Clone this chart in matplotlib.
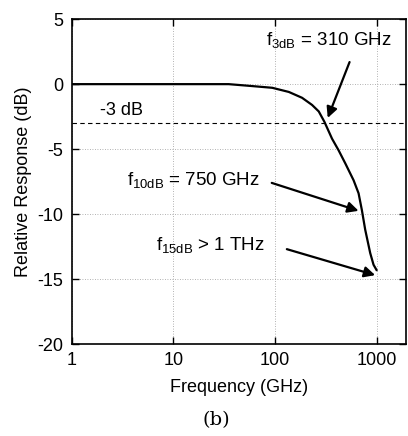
import matplotlib
matplotlib.use("Agg")
import matplotlib.pyplot as plt

plt.rcParams['font.family'] = ['Liberation Sans', 'DejaVu Sans']
plt.rcParams['mathtext.fontset'] = 'custom'
plt.rcParams['mathtext.rm'] = 'Liberation Sans'
plt.rcParams['mathtext.it'] = 'Liberation Sans'
plt.rcParams['axes.unicode_minus'] = False

# response curve
freq_ghz = [1, 10, 35, 56, 94, 137, 185, 232, 270, 307, 365, 424, 493, 595, 666, 718, 774, 867, 935, 1000]
resp_db = [0, 0, 0, -0.13, -0.28, -0.6, -1.05, -1.6, -2.1, -2.9, -4.2, -5.1, -6.1, -7.4, -8.4, -9.7, -11.2, -13.0, -13.9, -14.3]

xticks = [1, 10, 100, 1000]
xticklabels = ['1', '10', '100', '1000']
yticks = [5, 0, -5, -10, -15, -20]

# annotations: (text, text pos, arrow tail, arrow head)
notes = [
    (r'f$_{\mathrm{3dB}}$ = 310 GHz', (82, 3.4), (543, 1.7), (331, -2.6)),
    (r'f$_{\mathrm{10dB}}$ = 750 GHz', (3.46, -7.4), (93, -7.6), (666, -9.75)),
    (r'f$_{\mathrm{15dB}}$ > 1 THz', (6.8, -12.4), (131, -12.7), (970, -14.7)),
]

fig = plt.figure(figsize=(4.08, 4.36), dpi=100)
ax = fig.add_axes([0.176, 0.211, 0.819, 0.745])

ax.plot(freq_ghz, resp_db, color='black', lw=1.6)
ax.axhline(-3, color='black', lw=0.8, ls=(0, (4, 3)))
ax.text(1.88, -2.0, '-3 dB', fontsize=13, va='center', ha='left')

for txt, pos, tail, head in notes:
    ax.text(pos[0], pos[1], txt, fontsize=13.5, va='center', ha='left')
    ax.annotate('', xy=head, xytext=tail,
                arrowprops=dict(arrowstyle='-|>', color='black', lw=1.6,
                                mutation_scale=16, shrinkA=0, shrinkB=0))

ax.set_xscale('log')
ax.set_xlim(1, 1950)
ax.set_ylim(-20, 5)
ax.set_xticks(xticks)
ax.set_xticklabels(xticklabels)
ax.minorticks_off()
ax.set_yticks(yticks)
ax.tick_params(direction='in', length=5, width=1, labelsize=13, top=True, right=True, pad=6)
ax.grid(True, color='#999999', lw=0.6, ls=(0, (1, 2)))
for s in ax.spines.values():
    s.set_linewidth(1.2)

ax.set_xlabel('Frequency (GHz)', fontsize=13, labelpad=7)
ax.set_ylabel('Relative Response (dB)', fontsize=13, labelpad=4)

fig.text(0.53, 0.037, '(b)', fontsize=14, ha='center', va='center',
         family=['DejaVu Serif'])

fig.savefig('out.png', dpi=100)
